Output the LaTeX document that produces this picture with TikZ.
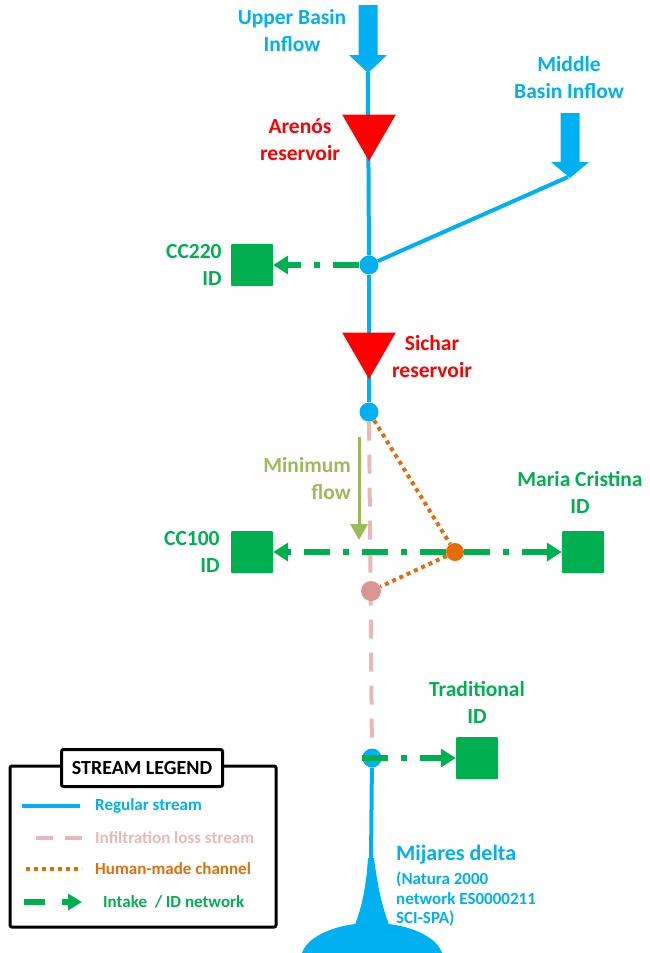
\documentclass[tikz,border=0pt]{standalone}
\usepackage{fontspec}
\setmainfont{Carlito}
\usetikzlibrary{arrows.meta,positioning,shapes.geometric,backgrounds}
\definecolor{riverblue}{HTML}{00B0F0}
\definecolor{resred}{HTML}{FF0000}
\definecolor{idgreen}{HTML}{00B050}
\definecolor{chanorange}{HTML}{E46C0A}
\definecolor{losspink}{HTML}{E6B9B8}
\definecolor{lossdot}{HTML}{D99694}
\definecolor{flowolive}{HTML}{9BBB59}

\begin{document}
\begin{tikzpicture}[x=1pt, y=-1pt,
	lbl/.style      = {font=\bfseries\fontsize{21.5}{27}\selectfont, align=center, inner sep=0pt},
	reservoir/.style = {regular polygon, regular polygon sides=3, shape border rotate=180, fill=resred, minimum size=62pt, inner sep=0pt},
	junction/.style = {circle, fill=riverblue, minimum size=19pt, inner sep=0pt},
	district/.style = {rectangle, fill=idgreen, rounded corners=1pt, minimum size=42pt, inner sep=0pt},
	stream/.style   = {draw=riverblue, line width=4pt},
	loss/.style     = {draw=losspink, line width=4pt, dash pattern=on 19pt off 14pt},
	channel/.style  = {draw=chanorange, line width=4pt, dash pattern=on 4pt off 4pt},
	intake/.style   = {draw=idgreen, line width=5.5pt, dash pattern=on 26pt off 13pt on 6pt off 13pt, -{Triangle[length=15pt,width=18pt]}},
	legtext/.style  = {font=\bfseries\fontsize{17}{20}\selectfont, anchor=west, inner sep=0pt}]
	
	\path[use as bounding box, clip] (0,0) rectangle (649,953);
	
	% inflows
	\foreach \cx/\top/\hb/\tip in {368/5/55/73, 570/113/162/178}
	\fill[riverblue] (\cx-9.5,\top) -- (\cx+9.5,\top) -- (\cx+9.5,\hb) -- (\cx+19,\hb) -- (\cx,\tip) -- (\cx-19,\hb) -- (\cx-9.5,\hb) -- cycle;
	\coordinate (ubtip) at (368,72);
	\coordinate (mbtip) at (568,177);
	
	\node[lbl, text=riverblue] (ubtext) at (292,31) {Upper Basin\\Inflow};
	\node[lbl, text=riverblue] (mbtext) at (569,78) {Middle\\Basin Inflow};
	
	% river nodes
	\node[reservoir] (arenos) at (369,130) {};
	\node[reservoir] (sichar) at (369,348) {};
	\node[junction] (j1) at (369,265) {};
	\node[junction] (j2) at (369,412) {};
	\node[junction] (j3) at (372,758) {};
	\node[circle, fill=lossdot, minimum size=20pt, inner sep=0pt] (lossnode) at (371,591) {};
	\node[circle, fill=chanorange, minimum size=18pt, inner sep=0pt] (mcnode) at (455,552) {};
	\coordinate (deltatop) at (371,860);
	
	\node[lbl, text=resred] at (300,140) {Aren\'os\\reservoir};
	\node[lbl, text=resred] at (432,357) {Sichar\\reservoir};
	
	% irrigation districts
	\node[district] (cc220) at (252,265) {};
	\node[district] (cc100) at (252,552) {};
	\node[district] (mcid) at (583,552) {};
	\node[district] (trad) at (477,758) {};
	
	\node[lbl, text=idgreen, align=right, left=9pt of cc220] {CC220\\ID};
	\node[lbl, text=idgreen, align=right, left=11pt of cc100] {CC100\\ID};
	\node[lbl, text=idgreen, above=17pt of mcid, xshift=-3pt] {Maria Cristina\\ID};
	\node[lbl, text=idgreen, above=13pt of trad] {Traditional\\ID};
	
	\begin{scope}[on background layer]
	\draw[stream] (ubtip) -- (j1);
	\draw[stream] (mbtip) -- (j1);
	\draw[stream] (j1) -- (j2);
	\draw[stream] (j3) -- (deltatop);
	\draw[loss] (j2) -- (j3);
	\end{scope}
	
	\draw[channel] (j2) -- (mcnode);
	\draw[channel] (mcnode) -- (lossnode);
	
	\draw[intake] (j1) -- (cc220);
	\draw[intake] (mcnode) -- (cc100);
	\draw[intake] (mcnode) -- (mcid);
	\draw[intake] (j3.west) -- (trad);
	
	% minimum flow
	\coordinate (mfa) at (359,437);
	\coordinate (mfb) at (359,540);
	\draw[draw=flowolive, line width=3pt, -{Triangle[length=16pt,width=17pt]}] (mfa) -- (mfb);
	\node[lbl, text=flowolive, align=right, anchor=east] at (351,479) {Minimum\\flow};
	
	% delta
	\fill[riverblue] (368,858) .. controls (366,890) and (361,910) .. (353,930) -- (391,930) .. controls (383,910) and (378,890) .. (374,858) -- cycle;
	\fill[riverblue] (372,959) ellipse [x radius=71, y radius=36];
	\node[lbl, text=riverblue, anchor=west, font=\bfseries\fontsize{22}{26}\selectfont] at (396,855) {Mijares delta};
	\node[lbl, text=riverblue, anchor=west, align=left, font=\bfseries\fontsize{17}{19.5}\selectfont] at (396,899) {(Natura 2000\\network ES0000211\\SCI-SPA)};
	
	% legend
	\draw[line width=3pt, rounded corners=2pt] (10,766) rectangle (276,927);
	\node[draw, line width=3pt, fill=white, rounded corners=2pt, minimum width=161pt, minimum height=37pt, inner sep=0pt, font=\bfseries\fontsize{20}{24}\selectfont] (legtitle) at (142,768) {STREAM LEGEND};
	
	\draw[stream] (22,806) -- (80,806);
	\node[legtext, text=riverblue] at (95,806) {Regular stream};
	\draw[loss, dash pattern=on 17pt off 12pt] (36,838) -- (82,838);
	\node[legtext, text=losspink] at (95,838) {Infiltration loss stream};
	\draw[channel] (26,869) -- (82,869);
	\node[legtext, text=chanorange] at (95,869) {Human-made channel};
	\draw[intake, dash pattern=on 21pt off 17pt on 6pt off 20pt, -{Triangle[length=14pt,width=16pt]}] (24,902) -- (82,902);
	\node[legtext, text=idgreen] at (103,902) {Intake\ \ / ID network};
	
\end{tikzpicture}
\end{document}
